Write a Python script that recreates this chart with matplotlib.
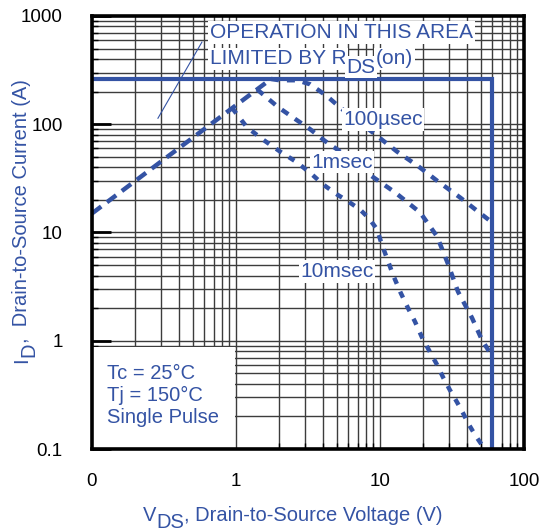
import matplotlib
matplotlib.use("Agg")
import matplotlib.pyplot as plt
from matplotlib.patches import Rectangle

plt.rcParams["font.family"] = ["Liberation Sans", "DejaVu Sans"]

BLUE = "#3453a4"
GRID = "#3c3c3c"

# axis ranges and tick labels
x_ticks = [0.1, 1, 10, 100]
x_tick_labels = ["0", "1", "10", "100"]
y_ticks = [0.1, 1, 10, 100, 1000]
y_tick_labels = ["0.1", "1", "10", "100", "1000"]

# limits of the safe operating area
id_max = 260      # A
vds_max = 60      # V

# on-resistance limited line
rds_v = [0.1, 1.75]
rds_i = [15, 262]

# single pulse boundaries
v_100us = [1.75, 2.0, 2.65, 3.27, 4.28, 5.27, 8.9, 13.1, 18.4, 25.3, 35.9, 48, 60]
i_100us = [262, 255, 255, 234, 182, 143, 84, 56, 41, 29.6, 21.1, 15.6, 12.4]

v_1ms = [1.4, 1.96, 2.57, 3.27, 4.15, 5.0, 8.8, 12.7, 19, 24.9, 29.7, 34.8, 43.5, 51, 60]
i_1ms = [210, 144, 112, 90, 70, 59, 33, 23.5, 15.3, 9.2, 5.1, 2.84, 1.63, 1.02, 0.72]

v_10ms = [0.94, 1.19, 1.52, 2.02, 2.65, 3.37, 4.02, 5.02, 6.0, 7.26, 8.39, 9.53, 10.3,
          11.4, 12.3, 13.8, 15.6, 17.5, 19.6, 22.2, 24.9, 27.4, 30.6, 34.3, 37.7,
          40.8, 45.7, 51, 54.5]
i_10ms = [141, 94, 73, 56, 44.5, 34.4, 27.8, 22.5, 19.4, 16.3, 13.5, 10.7, 7.74,
          5.38, 4.08, 2.84, 2.02, 1.50, 1.07, 0.79, 0.60, 0.46, 0.35, 0.27, 0.215,
          0.174, 0.135, 0.109, 0.1]


def chain_text(ax, xy, coords, parts, rotation=0, box=False, **kw):
    """Write text pieces one after another; each piece carries a baseline shift in points."""
    bbox = dict(boxstyle="square,pad=0.08", facecolor="white", edgecolor="none") if box else None
    prev = None
    prev_off = 0
    for text, off in parts:
        d = off - prev_off
        shift = (0, d) if rotation == 0 else (-d, 0)
        if prev is None:
            prev = ax.annotate(text, xy=xy, xycoords=coords, xytext=shift,
                               textcoords="offset points", rotation=rotation,
                               ha="left", va="bottom", bbox=bbox, **kw)
        else:
            anchor = (1, 0) if rotation == 0 else (0, 1)
            prev = ax.annotate(text, xy=anchor, xycoords=prev, xytext=shift,
                               textcoords="offset points", rotation=rotation,
                               ha="left", va="bottom", bbox=bbox, **kw)
        prev_off = off
    return prev


fig = plt.figure(figsize=(5.45, 5.31), dpi=100)
ax = fig.add_axes([0.1688, 0.1544, 0.7927, 0.8155])
ax.set_xscale("log")
ax.set_yscale("log")
ax.set_xlim(x_ticks[0], x_ticks[-1])
ax.set_ylim(y_ticks[0], y_ticks[-1])

# log grid, 1..9 in every decade
for dec in x_ticks[:-1]:
    for m in range(1, 10):
        ax.axvline(dec * m, color=GRID, lw=1.0, zorder=1)
for dec in y_ticks[:-1]:
    for m in range(1, 10):
        ax.axhline(dec * m, color=GRID, lw=1.0, zorder=1)

# current / voltage limits
ax.plot([x_ticks[0], vds_max, vds_max], [id_max, id_max, y_ticks[0]],
        color=BLUE, lw=3, solid_joinstyle="miter", zorder=3)

dash = dict(color=BLUE, lw=3.2, zorder=3, dash_capstyle="butt")
ax.plot(rds_v, rds_i, ls=(0, (2.6, 1.6)), **dash)
ax.plot(v_100us, i_100us, ls=(0, (1.8, 1.8)), **dash)
ax.plot(v_1ms, i_1ms, ls=(0, (1.8, 1.8)), **dash)
ax.plot(v_10ms, i_10ms, ls=(0, (1.5, 1.9)), **dash)

# curve labels
label_box = dict(boxstyle="square,pad=0.08", facecolor="white", edgecolor="none")
ax.text(10.5, 111, "100µsec", color=BLUE, fontsize=15, ha="center", va="center",
        bbox=label_box, zorder=5)
ax.text(5.45, 44.5, "1msec", color=BLUE, fontsize=15, ha="center", va="center",
        bbox=label_box, zorder=5)
ax.text(5.02, 4.35, "10msec", color=BLUE, fontsize=15, ha="center", va="center",
        bbox=label_box, zorder=5)

# R_DS(on) note with leader line
ax.plot([0.287, 0.58], [113.6, 574], color=BLUE, lw=0.8, zorder=4)
ax.text(0.273, 0.949, "OPERATION IN THIS AREA", transform=ax.transAxes, color=BLUE,
        fontsize=15, ha="left", va="baseline", bbox=label_box, zorder=5)
chain_text(ax, (0.273, 0.879), "axes fraction",
           [("LIMITED BY R", 0), ("DS", -6), ("(on)", 0)],
           box=True, color=BLUE, fontsize=15, zorder=5)

# test conditions
ax.add_patch(Rectangle((0, 0), 0.33, 0.236, transform=ax.transAxes,
                       facecolor="white", edgecolor="none", zorder=2))
ax.text(0.035, 0.197, "Tc = 25°C\nTj = 150°C\nSingle Pulse", transform=ax.transAxes,
        color=BLUE, fontsize=14.5, ha="left", va="top", linespacing=1.2, zorder=5)

# ticks
ax.set_xticks(x_ticks)
ax.set_xticklabels(x_tick_labels)
ax.set_yticks(y_ticks)
ax.set_yticklabels(y_tick_labels)
ax.tick_params(axis="x", which="major", labelsize=13.5, pad=17, direction="in", length=0)
ax.tick_params(axis="y", which="major", labelsize=13.5, pad=21, direction="in",
               length=14, width=2)
ax.tick_params(axis="both", which="minor", direction="in", length=4, width=1,
               labelleft=False, labelbottom=False)
for s in ax.spines.values():
    s.set_linewidth(2.6)
    s.set_zorder(6)

# axis titles with full-size subscripts
chain_text(ax, (143 / 545, 6 / 531), "figure fraction",
           [("V", 0), ("DS", -5), (", Drain-to-Source Voltage (V)", 0)],
           color=BLUE, fontsize=14.5)
chain_text(ax, (12 / 545, 168 / 531), "figure fraction",
           [("I", 0), ("D", -5), (",  Drain-to-Source Current (A)", 0)],
           rotation=90, color=BLUE, fontsize=14.5)

fig.savefig("out.png", dpi=100)
